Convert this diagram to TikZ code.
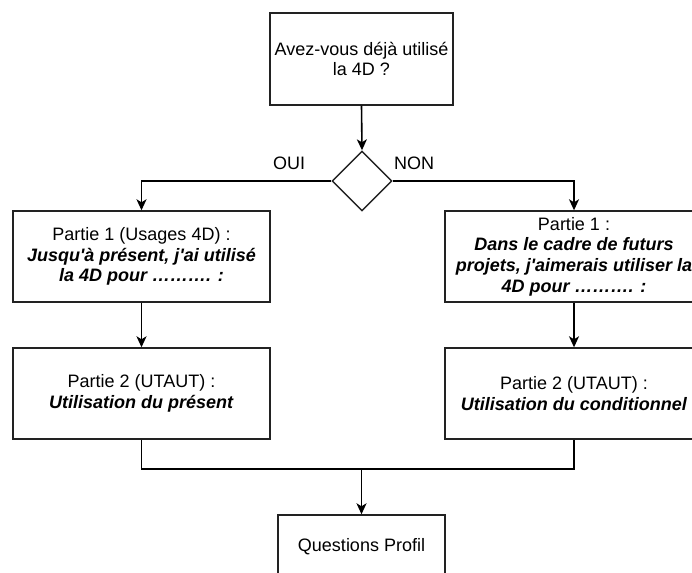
\documentclass[tikz,border=0pt]{standalone}
\usepackage{fontspec}
\setmainfont{Liberation Sans}[Ligatures=TeXOff]
\usetikzlibrary{arrows.meta,shapes.geometric}
\definecolor{ln}{HTML}{222222}
\tikzset{
  box/.style={draw=ln, line width=1.4pt, rectangle, inner sep=0pt, align=center,
    font=\fontsize{18}{20.7}\selectfont},
  dec/.style={draw=ln, line width=1.4pt, diamond, inner sep=0pt, minimum width=60pt, minimum height=60pt},
  conn/.style={draw=black, line width=1.6pt},
  arr/.style={conn, -{Stealth[length=11pt,width=10pt,inset=3pt]}},
  lab/.style={font=\fontsize{18}{20.7}\selectfont, inner sep=0pt}
}
\begin{document}
\begin{tikzpicture}[x=1pt,y=-1pt]
\useasboundingbox (0,0) rectangle (692,572);
\clip (0,0) rectangle (692,572);
\node[box, minimum width=183pt, minimum height=92pt] (q1) at (361.5,59) {Avez-vous déjà utilisé\\la 4D ?};
\node[dec] (d) at (362,181) {};
\node[lab] (oui) at (289,163) {OUI};
\node[lab] (non) at (414,163) {NON};
\node[box, minimum width=257pt, minimum height=91pt] (l1) at (141.5,256.5)
  {Partie 1 (Usages 4D) :\\\textbf{\textit{Jusqu'à présent, j'ai utilisé}}\\\textbf{\textit{la 4D pour ………. :}}};
\node[box, minimum width=257pt, minimum height=91pt] (l2) at (141.5,393.5)
  {Partie 2 (UTAUT) :\\\textbf{\textit{Utilisation du présent}}};
\node[box, minimum width=258pt, minimum height=91pt] (r1) at (574,256.5)
  {Partie 1 :\\\textbf{\textit{Dans le cadre de futurs}}\\\textbf{\textit{projets, j'aimerais utiliser la}}\\\textbf{\textit{4D pour ………. :}}};
\node[box, minimum width=258pt, minimum height=91pt] (r2) at (574,393.5)
  {Partie 2 (UTAUT) :\\\textbf{\textit{Utilisation du conditionnel}}};
\node[box, minimum width=167pt, minimum height=64pt] (qp) at (361.5,547) {Questions Profil};
\coordinate (m) at (361.5,469);
\draw[arr] (q1.south) -- (d.north);
\draw[arr] (d.west) -| (l1.north);
\draw[arr] (d.east) -| (r1.north);
\draw[arr] (l1.south) -- (l2.north);
\draw[arr] (r1.south) -- (r2.north);
\draw[conn] (l2.south) |- (m) -| (r2.south);
\draw[arr] (m) -- (qp.north);
\end{tikzpicture}
\end{document}
